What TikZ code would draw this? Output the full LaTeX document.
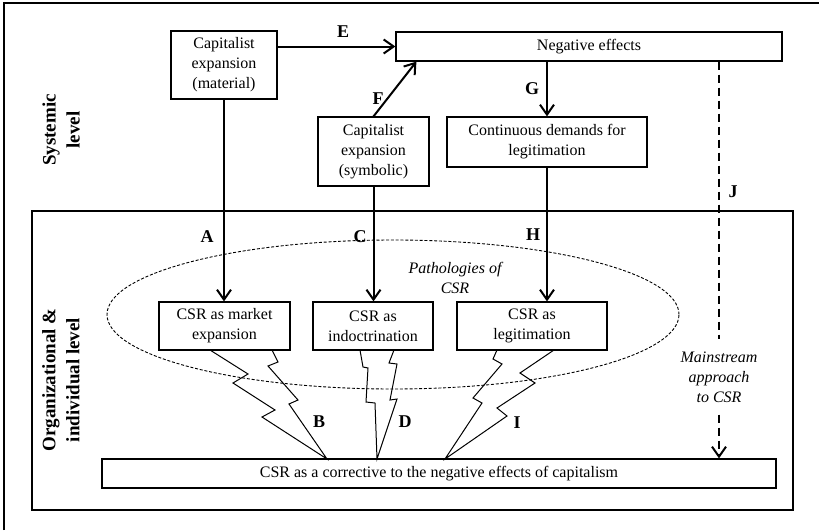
\documentclass[tikz,border=0pt]{standalone}
\usepackage{fontspec}
\setmainfont{Liberation Serif}
\usetikzlibrary{arrows.meta}

\begin{document}
\begin{tikzpicture}[x=1pt,y=-1pt,
  box/.style={draw, line width=1.2pt, inner sep=0pt, align=center, font=\fontsize{16}{20}\selectfont},
  flow/.style={line width=2pt, -{Straight Barb[length=10pt,width=14pt]}},
  jdash/.style={line width=2pt, dash pattern=on 8pt off 5pt},
  tag/.style={font=\fontsize{18}{20}\selectfont\bfseries},
  lvl/.style={rotate=90, align=center, font=\fontsize{19}{24}\selectfont\bfseries},
  note/.style={align=center, font=\fontsize{16}{20}\selectfont\itshape},
  bolt/.style={line width=1pt, line join=miter}]
  \useasboundingbox (0,0) rectangle (819,530);
  \draw[line width=1.2pt] (4,530) |- (819,3);
  \draw[line width=1.2pt] (32,211) rectangle (793,510);

  % systemic level
  \node[lvl] (sys) at (61,130) {Systemic\\level};
  \node[box, minimum width=106pt, minimum height=68pt] (mat) at (224,65) {Capitalist\\expansion\\(material)};
  \node[box, minimum width=386pt, minimum height=29pt] (neg) at (589,46.5) {Negative effects};
  \node[box, minimum width=111pt, minimum height=69pt] (sym) at (373.5,151.5) {Capitalist\\expansion\\(symbolic)};
  \node[box, minimum width=200pt, minimum height=50pt] (dem) at (547,142) {Continuous demands for\\legitimation};

  % organizational level
  \node[lvl] (org) at (61,380) {Organizational \&\\individual level};
  \draw[line width=0.9pt, dash pattern=on 3pt off 1.8pt] (393,314.5) ellipse [x radius=286pt, y radius=74.5pt];
  \node[note] (path) at (455,278) {Pathologies of\\CSR};
  \node[box, minimum width=131pt, minimum height=48pt] (mkt) at (224.5,326) {CSR as market\\expansion};
  \node[box, minimum width=120pt, minimum height=48pt] (ind) at (373,326) {CSR as\\indoctrination};
  \node[box, minimum width=150pt, minimum height=48pt] (leg) at (532,326) {CSR as\\legitimation};
  \node[box, minimum width=674pt, minimum height=29pt] (cor) at (439,473.5) {CSR as a corrective to the negative effects of capitalism};
  \node[note, inner ysep=12pt] (main) at (719,377) {Mainstream\\approach\\to CSR};

  % arrows
  \draw[flow] (mat.east |- neg.west) -- (neg.west);
  \draw[flow] (sym.north) -- ([xshift=21pt]neg.south west);
  \draw[flow] (dem.north |- neg.south) -- (dem.north);
  \draw[flow] (mat.south) -- (mat.south |- mkt.north);
  \draw[flow] (sym.south) -- (sym.south |- ind.north);
  \draw[flow] (dem.south) -- (dem.south |- leg.north);
  \draw[jdash] (main.north |- neg.south) -- (main.north);
  \draw[flow, jdash] (main.south) -- (main.south |- cor.north);

  % lightning bolts
  \draw[bolt] (210,350) -- (248,374) -- (233,383) -- (275,410) -- (262,417) -- (327,459)
    -- (289,404) -- (298,400) -- (268,366) -- (278,362) -- (272,350);
  \draw[bolt] (360,350) -- (363,367) -- (368,368) -- (366,402) -- (375,403) -- (377,459)
    -- (397,399) -- (390,400) -- (397,364) -- (389,363) -- (394,350);
  \draw[bolt] (497,350) -- (493,359) -- (502,364) -- (473,398) -- (482,403) -- (445,459)
    -- (507,416) -- (497,408) -- (535,383) -- (520,373) -- (554,350);

  \foreach \t/\x/\y in {A/207/237, B/319/422, C/360/237, D/405/422, E/343/32,
      F/378/99, G/532/89, H/533/235, I/517/423, J/733/192}
    \node[tag] (lab\t) at (\x,\y) {\t};
\end{tikzpicture}
\end{document}
